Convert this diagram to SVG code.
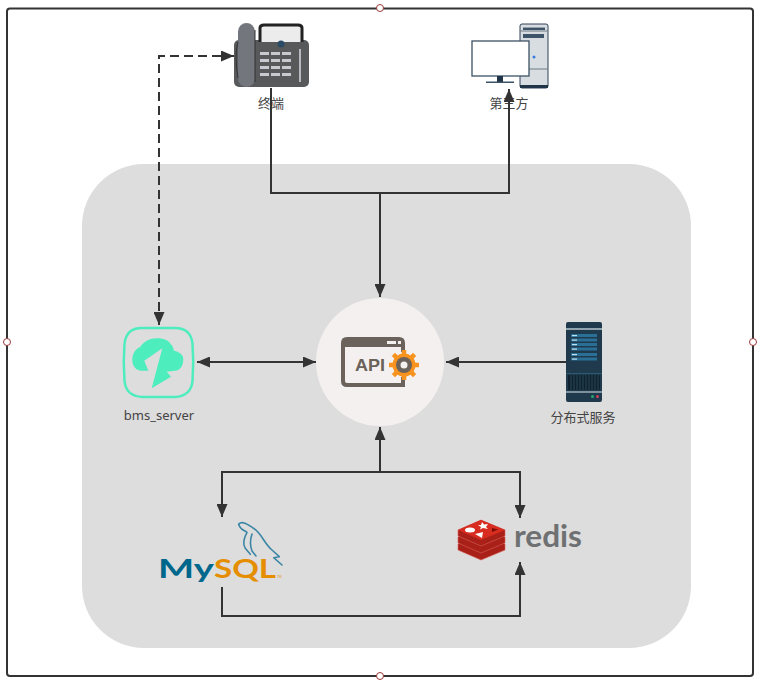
<svg xmlns="http://www.w3.org/2000/svg" width="762" height="685" viewBox="0 0 762 685">
<style>
.lbl{font-family:"Noto Sans","Noto Sans CJK SC",sans-serif;font-size:13px;fill:#444;text-anchor:middle}
.c{fill:none;stroke:#333;stroke-width:2}
.handle{fill:#fff;stroke:#9b3a3a;stroke-width:1}
.dol{fill:none;stroke:#3c86a6;stroke-width:1.600;stroke-linejoin:round;stroke-linecap:round}
</style>
<defs>
<marker id="arr" viewBox="0 0 13 11" refX="13" refY="5.500" markerWidth="13" markerHeight="11" markerUnits="userSpaceOnUse" orient="auto-start-reverse"><path d="M0 0L13 5.500L0 11Z" fill="#333"/></marker>
</defs>
<rect width="762" height="685" fill="#fff"/>
<rect id="frame" x="7" y="8.500" width="746" height="667.500" rx="3" fill="#fff" stroke="#333" stroke-width="2"/>
<rect id="area" x="82" y="164" width="609" height="484" rx="62" fill="#ddd"/>

<g id="phone">
<rect x="234" y="40" width="75" height="47" rx="5" fill="#58595b"/>
<path d="M260 42V28Q260 25 264 25H298Q302 25 302 28V42" fill="#ececec" stroke="#222" stroke-width="3"/>
<circle cx="281" cy="44" r="3.500" fill="#2b4a66"/>
<rect x="238" y="23" width="17" height="64" rx="8.500" fill="#73777d"/>
<path d="M238 42Q234 55 238 78M255 30V82" fill="none" stroke="#333" stroke-width="1"/>
<g fill="#c9c9d2"><rect x="260" y="52" width="9" height="3"/><rect x="271" y="52" width="9" height="3"/><rect x="282" y="52" width="9" height="3"/><rect x="260" y="59" width="9" height="3"/><rect x="271" y="59" width="9" height="3"/><rect x="282" y="59" width="9" height="3"/><rect x="260" y="66" width="9" height="3"/><rect x="271" y="66" width="9" height="3"/><rect x="282" y="66" width="9" height="3"/><rect x="260" y="73" width="9" height="3"/><rect x="271" y="73" width="9" height="3"/><rect x="282" y="73" width="9" height="3"/></g>
<rect x="299" y="49" width="2" height="33" fill="#b9b9c0"/>
<text class="lbl" x="271" y="108">终端</text>
</g>

<g id="third-party">
<rect x="520" y="24" width="28" height="64" rx="2" fill="#d8dde2" stroke="#2e4356" stroke-width="1"/>
<rect x="520" y="85" width="28" height="3" fill="#1f3447"/>
<rect x="523" y="27" width="22" height="1" fill="#95a2ad"/>
<rect x="523" y="28" width="22" height="2" fill="#3e5468"/>
<rect x="523" y="34" width="21" height="4" fill="#3e5468"/>
<path d="M520 31H548M520 69H548" stroke="#6d7a85" stroke-width="1"/>
<circle cx="534" cy="57" r="1.500" fill="#3a7be0"/>
<rect x="472" y="41" width="57" height="35" fill="#fff" stroke="#3d5264" stroke-width="1.300"/>
<rect x="497" y="76" width="6" height="6" fill="#1f3447"/>
<rect x="486" y="81.500" width="28" height="1.500" fill="#3d5264"/>
<text class="lbl" x="509" y="108">第三方</text>
</g>

<g id="bms_server">
<path d="M142 328H175Q191 328 192.500 344Q194 362 192.500 381Q191 396 175 397H142Q126 396 124.500 381Q123 362 124.500 344Q126 328 142 328Z" fill="none" stroke="#4eedbe" stroke-width="2.500"/>
<path d="M162.300 348.300L144.300 360.700L148.300 370.700H141.700C136 370.700 132.300 366 132.300 360C132.300 353 136 348.500 140 347.300C144 341 150 338.300 156.700 338.300C163 338.300 168 340 170 343.300C172 345 173.500 348 174 350.700C180 352 183.300 355 183.300 359.300C183.300 366 180 370.700 175 370.700L166.700 371.700L171 376.700L151.700 388.300Z" fill="#4eedbe"/>
<text class="lbl" x="159" y="420">bms_server</text>
</g>

<g id="api">
<circle cx="380" cy="362" r="64" fill="#f3f0ef"/>
<path d="M403 377V385H347Q343 385 343 381V343Q343 339 347 339H399Q403 339 403 343V352" fill="none" stroke="#6a625b" stroke-width="4"/>
<rect x="343" y="339" width="60" height="8" fill="#6a625b"/>
<rect x="387" y="341" width="9" height="3" fill="#f3f0ef"/><rect x="398" y="341" width="3" height="3" fill="#f3f0ef"/>
<text x="355" y="371" font-family="'Liberation Sans',sans-serif" font-size="17" font-weight="700" fill="#6a625b" textLength="30" lengthAdjust="spacingAndGlyphs">API</text>
<circle cx="404" cy="365" r="11.500" fill="#f7931e"/>
<g stroke="#f7931e" stroke-width="4.500"><path d="M404 350V380M389 365H419M393.400 354.400L414.600 375.600M393.400 375.600L414.600 354.400"/></g>
<circle cx="404" cy="365" r="8" fill="#6a625b"/>
<circle cx="404" cy="365" r="3.500" fill="#f3f0ef"/>
</g>

<g id="distributed">
<rect x="566" y="322" width="36" height="80" rx="2" fill="#1f3a4d"/>
<rect x="566" y="328" width="36" height="2" fill="#8ea3ae"/>
<rect x="566" y="391" width="36" height="2" fill="#7d919c"/>
<rect x="566" y="373" width="36" height="1" fill="#2c5a70"/>
<g fill="#2a6f96"><rect x="571" y="334" width="26" height="3"/><rect x="571" y="338.500" width="26" height="3"/><rect x="571" y="343" width="26" height="3"/><rect x="571" y="347.500" width="26" height="3"/><rect x="571" y="353" width="26" height="3"/><rect x="571" y="357.500" width="26" height="3"/></g>
<g fill="#bfe0ee"><rect x="572" y="335" width="5" height="1.200"/><rect x="572" y="339.500" width="5" height="1.200"/><rect x="572" y="344" width="5" height="1.200"/><rect x="572" y="348.500" width="5" height="1.200"/><rect x="572" y="354" width="5" height="1.200"/><rect x="572" y="358.500" width="5" height="1.200"/></g>
<rect x="568" y="375" width="32" height="15" fill="#102230"/>
<path d="M571 375V390M574 375V390M577 375V390M580 375V390M583 375V390M586 375V390M589 375V390M592 375V390M595 375V390M598 375V390" stroke="#29485a" stroke-width="1"/>
<circle cx="592.500" cy="396.500" r="1.500" fill="#25a86f"/><circle cx="597.500" cy="396.500" r="1.500" fill="#d0405a"/>
<text class="lbl" x="583" y="422">分布式服务</text>
</g>

<g id="mysql">
<text x="158" y="578" font-family="Lato,sans-serif" font-size="27" font-weight="700" fill="#00678c" textLength="56" lengthAdjust="spacingAndGlyphs">My</text>
<text x="214" y="578" font-family="Lato,sans-serif" font-size="27" font-weight="700" fill="#e48e00" textLength="62" lengthAdjust="spacingAndGlyphs">SQL</text>
<text x="277" y="578" font-family="Lato,sans-serif" font-size="3" fill="#e48e00">TM</text>
<path class="dol" d="M238.700 524.300C242 520 248.700 525 252.700 527.700C262 533.300 263.700 543.300 272 550L279.300 556.700L273.700 557.700L282 565"/>
<path class="dol" d="M238.700 524.300C240.300 530 243.700 530 247 532.300C243.700 538.300 242 543.300 245.300 548.300L250.300 554.300"/>
<path class="dol" d="M252 534C250 540 250 546 252 551L256 556"/>
</g>

<g id="redis">
<g fill="#a82018" stroke="#d8605a" stroke-width=".6">
<path d="M458 544L481 534L505 544V550L481 560L458 550Z"/>
<path d="M458 537L481 527L505 537V543L481 553L458 543Z"/>
<path d="M458 530L481 520L505 530V536L481 546L458 536Z"/>
</g>
<path d="M458 530L481 520L505 530L481 540Z" fill="#d82c20"/>
<ellipse cx="470" cy="530" rx="5" ry="2.500" fill="#fff"/>
<path d="M482 522L484 524.500L488 524L486 527L488 529L483 528L480 529.500L481 527L478 525L481 525Z" fill="#fff"/>
<path d="M475 534L483 532L482 538Z" fill="#fff"/>
<path d="M492 528L498 529.500L492 532Z" fill="#7a0c00"/>
<text x="514" y="547" font-family="Lato,sans-serif" font-size="30" font-weight="700" fill="#6f7072" textLength="68" lengthAdjust="spacingAndGlyphs">redis</text>
</g>

<g id="connectors">
<path class="c" d="M271 88V193H509V89" marker-end="url(#arr)"/>
<path class="c" d="M380 193V297" marker-end="url(#arr)"/>
<path class="c" d="M159 325V56H234" stroke-dasharray="9 5" marker-start="url(#arr)" marker-end="url(#arr)"/>
<path class="c" d="M197 362H316" marker-start="url(#arr)" marker-end="url(#arr)"/>
<path class="c" d="M566 362H446" marker-end="url(#arr)"/>
<path class="c" d="M380 472V427" marker-end="url(#arr)"/>
<path class="c" d="M380 472H222V517" marker-end="url(#arr)"/>
<path class="c" d="M380 472H520V518" marker-end="url(#arr)"/>
<path class="c" d="M222 587V616H520V562" marker-end="url(#arr)"/>
</g>

<g id="handles">
<circle class="handle" cx="380" cy="8" r="3.500"/>
<circle class="handle" cx="7" cy="342" r="3.500"/>
<circle class="handle" cx="753" cy="342" r="3.500"/>
<circle class="handle" cx="380" cy="676" r="3.500"/>
</g>
</svg>
